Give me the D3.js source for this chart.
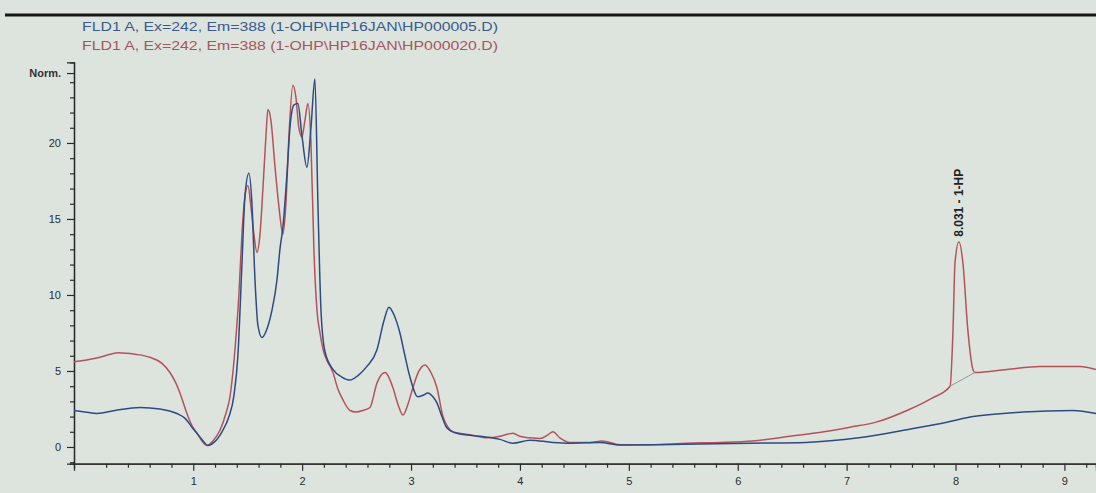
<!DOCTYPE html>
<html>
<head>
<meta charset="utf-8">
<script src="https://cdn.jsdelivr.net/npm/d3@7"></script>
<style>
  html, body { margin: 0; padding: 0; background: #dde4de; }
  svg { display: block; }
</style>
</head>
<body>
<svg id="chart" width="1096" height="493"></svg>
<script>
// FLD signal traces (retention time in min, normalised response)
const traceLabels = [
  "FLD1 A, Ex=242, Em=388 (1-OHP\\HP16JAN\\HP000005.D)",
  "FLD1 A, Ex=242, Em=388 (1-OHP\\HP16JAN\\HP000020.D)"
];

const timeBlue = [-0.095, 0.005, 0.116, 0.281, 0.511, 0.694, 0.85, 0.923, 0.988, 1.034, 1.08, 1.135, 1.19, 1.264, 1.328, 1.374, 1.41, 1.447, 1.475, 1.511, 1.539, 1.567, 1.594, 1.631, 1.668, 1.723, 1.769, 1.796, 1.824, 1.861, 1.888, 1.925, 1.961, 1.998, 2.044, 2.081, 2.117, 2.145, 2.173, 2.209, 2.283, 2.365, 2.439, 2.512, 2.595, 2.687, 2.751, 2.797, 2.843, 2.898, 2.944, 2.99, 3.063, 3.109, 3.155, 3.201, 3.238, 3.284, 3.33, 3.421, 3.632, 3.816, 3.936, 4.092, 4.303, 4.459, 4.734, 4.918, 5.285, 5.653, 6.112, 6.626, 7.113, 7.599, 7.93, 8.16, 8.619, 9.078, 9.29];
const valueBlue = [2.4, 2.3, 2.2, 2.4, 2.6, 2.5, 2.2, 1.9, 1.3, 0.9, 0.5, 0.1, 0.3, 1.0, 2.0, 3.4, 6.0, 12.0, 16.5, 18.0, 16.0, 11.0, 8.0, 7.2, 7.6, 9.0, 11.0, 13.0, 14.5, 18.0, 21.0, 22.5, 22.6, 20.5, 18.4, 21.0, 24.2, 16.0, 9.0, 6.3, 5.1, 4.6, 4.4, 4.7, 5.3, 6.4, 8.3, 9.2, 8.7, 7.5, 6.0, 4.6, 3.3, 3.4, 3.55, 3.3, 2.9, 2.0, 1.25, 0.9, 0.7, 0.5, 0.25, 0.45, 0.3, 0.25, 0.3, 0.13, 0.15, 0.2, 0.25, 0.3, 0.6, 1.2, 1.65, 2.0, 2.3, 2.4, 2.2];

const timeRed = [-0.095, 0.005, 0.143, 0.309, 0.465, 0.602, 0.713, 0.786, 0.841, 0.878, 0.942, 0.988, 1.034, 1.08, 1.126, 1.181, 1.245, 1.3, 1.337, 1.383, 1.419, 1.447, 1.475, 1.502, 1.53, 1.557, 1.585, 1.613, 1.64, 1.668, 1.686, 1.713, 1.75, 1.787, 1.824, 1.851, 1.879, 1.915, 1.943, 1.97, 1.998, 2.026, 2.053, 2.081, 2.108, 2.136, 2.164, 2.2, 2.228, 2.283, 2.329, 2.375, 2.439, 2.494, 2.558, 2.623, 2.687, 2.76, 2.834, 2.88, 2.926, 2.971, 3.017, 3.073, 3.128, 3.183, 3.238, 3.293, 3.339, 3.385, 3.541, 3.697, 3.816, 3.89, 3.936, 4.0, 4.092, 4.184, 4.257, 4.303, 4.367, 4.459, 4.643, 4.753, 4.918, 5.194, 5.533, 5.837, 6.14, 6.48, 6.792, 7.03, 7.279, 7.554, 7.78, 7.95, 7.977, 7.995, 8.031, 8.068, 8.113, 8.16, 8.178, 8.471, 8.774, 9.142, 9.29];
const valueRed = [5.6, 5.7, 5.9, 6.2, 6.1, 5.9, 5.5, 4.9, 4.2, 3.55, 2.2, 1.4, 0.9, 0.4, 0.1, 0.4, 1.1, 2.2, 3.3, 6.4, 10.0, 14.0, 16.5, 17.2, 15.8, 14.0, 12.8, 14.0, 17.0, 20.5, 22.2, 21.5, 18.5, 15.8, 14.0, 16.0, 20.5, 23.8, 23.0, 21.0, 20.4, 21.5, 22.6, 20.0, 13.0, 9.0, 7.5, 6.2, 5.7, 4.9, 3.8, 3.1, 2.4, 2.3, 2.4, 2.6, 4.2, 4.9, 3.9, 2.8, 2.1, 2.8, 3.9, 5.0, 5.4, 4.9, 3.9, 2.0, 1.3, 1.0, 0.8, 0.6, 0.7, 0.85, 0.9, 0.7, 0.6, 0.55, 0.8, 1.0, 0.6, 0.3, 0.3, 0.4, 0.15, 0.15, 0.25, 0.3, 0.4, 0.7, 1.0, 1.3, 1.65, 2.4, 3.2, 4.0, 7.7, 12.1, 13.5, 12.1, 7.7, 5.1, 4.9, 5.1, 5.3, 5.3, 5.1];

// Integrated peak
const peakTime = 8.031;
const peakHeight = 13.5;
const peakName = "1-HP";
const peakBaseTimes = [7.95, 8.178];
const peakBaseValues = [4.0, 4.9];

// Axis ticks
const xTickValues = [1, 2, 3, 4, 5, 6, 7, 8, 9];
const yTickValues = [0, 5, 10, 15, 20];
const yTopTick = 24.6;
const yTopLabel = "Norm.";

const svg = d3.select("#chart");
const W = 1096, H = 493;
const FONT = "'Liberation Sans', Arial, sans-serif";

svg.append("rect").attr("width", W).attr("height", H).attr("fill", "#dde4de");

const x = d3.scaleLinear().domain([-0.095, 9.29]).range([74, 1096]);
const y = d3.scaleLinear().domain([-1.1, 25.3]).range([463.7, 62.4]);

// Top rule of the report page
svg.append("line")
  .attr("x1", 5).attr("x2", W).attr("y1", 15).attr("y2", 15)
  .attr("stroke", "#161616").attr("stroke-width", 3);

// Signal descriptions
const headerColors = ["#3b5a8c", "#a8545c"];
svg.selectAll("text.header")
  .data(traceLabels)
  .join("text")
  .attr("class", "header")
  .attr("x", 82)
  .attr("y", (d, i) => 31 + i * 19)
  .attr("font-family", FONT)
  .attr("font-size", 12.5)
  .attr("textLength", 416)
  .attr("lengthAdjust", "spacingAndGlyphs")
  .attr("fill", (d, i) => headerColors[i])
  .text(d => d);

// X axis: major ticks every minute, minor every 0.2 min
const xMinor = d3.range(0, 9.3, 0.2).filter(v => Math.abs(v - Math.round(v)) > 1e-6);
const gxMinor = svg.append("g").attr("transform", `translate(0,${y(-1.1)})`)
  .call(d3.axisBottom(x).tickValues(xMinor).tickSize(4).tickFormat(""));
const gx = svg.append("g").attr("transform", `translate(0,${y(-1.1)})`)
  .call(d3.axisBottom(x).tickValues(xTickValues).tickSize(7).tickPadding(7).tickFormat(d3.format("d")));

// Y axis: major ticks every 5, minor every 1
const yMinor = d3.range(-1, 25, 1).filter(v => v % 5 !== 0);
const gyMinor = svg.append("g").attr("transform", `translate(${x(-0.095)},0)`)
  .call(d3.axisLeft(y).tickValues(yMinor).tickSize(4).tickFormat(""));
const gy = svg.append("g").attr("transform", `translate(${x(-0.095)},0)`)
  .call(d3.axisLeft(y).tickValues(yTickValues.concat([yTopTick])).tickSize(7).tickPadding(6)
    .tickFormat(d => d === yTopTick ? yTopLabel : d3.format("d")(d)));

[gxMinor, gx, gyMinor, gy].forEach(g => {
  g.select(".domain").attr("stroke", "#2a2a2a").attr("stroke-width", 1.3);
  g.selectAll(".tick line").attr("stroke", "#2a2a2a").attr("stroke-width", 1.2);
  g.selectAll(".tick text").attr("fill", "#2c2c2c").attr("font-family", FONT).attr("font-size", 11);
});
gy.selectAll(".tick text").filter(d => d === yTopTick).attr("font-weight", "bold").attr("fill", "#333");

// Traces
const line = d3.line()
  .x(d => x(d[0]))
  .y(d => y(d[1]))
  .curve(d3.curveMonotoneX);

const redPts = d3.zip(timeRed, valueRed);
const bluePts = d3.zip(timeBlue, valueBlue);

svg.append("path").datum(redPts)
  .attr("d", line).attr("fill", "none")
  .attr("stroke", "#b4525a").attr("stroke-width", 1.5).attr("stroke-linejoin", "round");

svg.append("path").datum(bluePts)
  .attr("d", line).attr("fill", "none")
  .attr("stroke", "#2d4b82").attr("stroke-width", 1.5).attr("stroke-linejoin", "round");

// Integration baseline under the 1-HP peak
svg.append("line")
  .attr("x1", x(peakBaseTimes[0])).attr("y1", y(peakBaseValues[0]))
  .attr("x2", x(peakBaseTimes[1])).attr("y2", y(peakBaseValues[1]))
  .attr("stroke", "#8a8f8c").attr("stroke-width", 0.9);

// Retention-time annotation
const px = x(peakTime), py = y(peakHeight) - 5;
svg.append("text")
  .attr("transform", `translate(${px + 4},${py}) rotate(-90)`)
  .attr("font-family", FONT)
  .attr("font-size", 12)
  .attr("font-weight", "bold")
  .attr("fill", "#222")
  .text(`${d3.format(".3f")(peakTime)} - ${peakName}`);
</script>
</body>
</html>
